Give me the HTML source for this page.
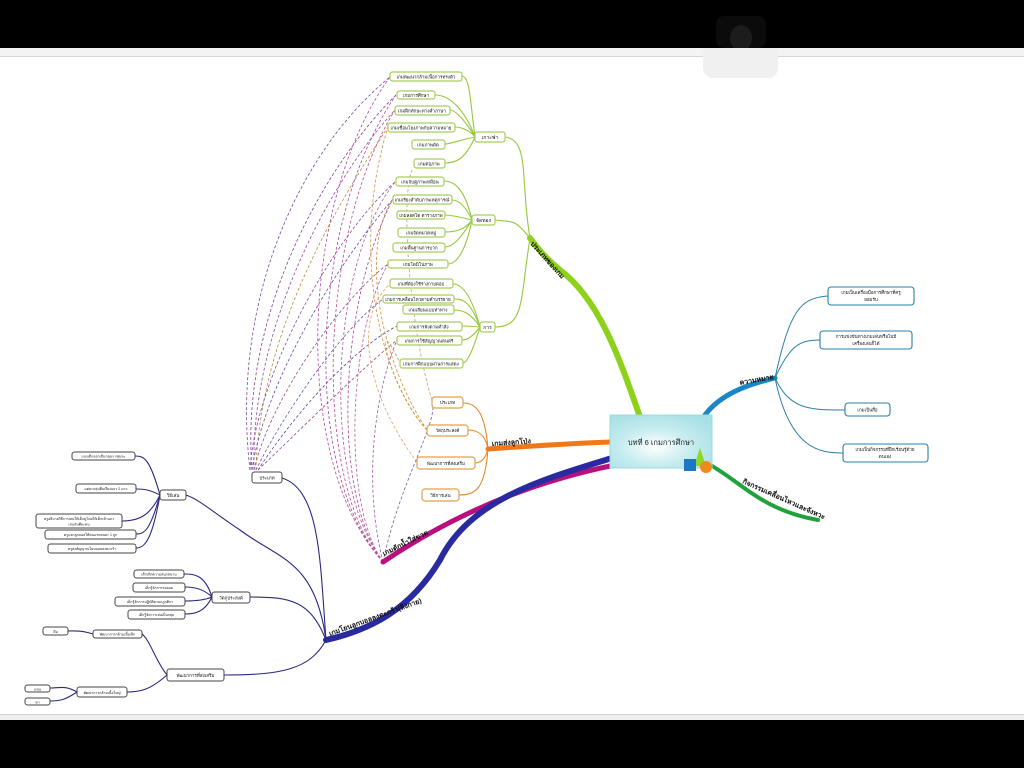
<!DOCTYPE html>
<html><head><meta charset="utf-8"><style>
html,body{margin:0;padding:0;width:1024px;height:768px;overflow:hidden;background:#fff}
svg{display:block}
text{font-family:"Liberation Sans","Noto Sans CJK SC",sans-serif}
</style></head><body>
<svg width="1024" height="768" viewBox="0 0 1024 768" xmlns="http://www.w3.org/2000/svg">
<defs>
<radialGradient id="cg" cx="0.45" cy="0.6" r="0.7"><stop offset="0" stop-color="#ffffff"/><stop offset="0.5" stop-color="#c6ecef"/><stop offset="1" stop-color="#a6dfe6"/></radialGradient>
</defs>
<rect x="0" y="0" width="1024" height="48" fill="#000"/>
<rect x="0" y="48" width="1024" height="8" fill="#f3f3f3"/>
<line x1="0" y1="56.5" x2="1024" y2="56.5" stroke="#d6d6d6"/>
<rect x="716" y="16" width="50" height="32" rx="8" fill="#0b0b0b"/>
<ellipse cx="741" cy="38" rx="11" ry="13" fill="#1c1c1c"/>
<rect x="703" y="48" width="75" height="30" rx="10" fill="#f0f0f0"/>
<rect x="703" y="48" width="75" height="12" fill="#f0f0f0"/>
<rect x="0" y="714" width="1024" height="6" fill="#eeeeee"/>
<line x1="0" y1="714.5" x2="1024" y2="714.5" stroke="#d0d0d0"/>
<rect x="0" y="720" width="1024" height="48" fill="#000"/>

<g fill="none" stroke-dasharray="3,2" stroke-width="0.8">
<path d="M250,470 C230,300 300,150 390,77" stroke="#7a4a9a"/>
<path d="M252,470 C240,320 320,170 396,95" stroke="#8a3a8a"/>
<path d="M254,470 C250,330 330,180 395,110" stroke="#9a4a9a"/>
<path d="M256,470 C260,330 340,200 388,127" stroke="#c08a3a"/>
<path d="M250,470 C255,380 330,240 396,181" stroke="#8a4aa0"/>
<path d="M252,470 C265,380 340,260 393,199" stroke="#6a4ab0"/>
<path d="M254,470 C270,400 340,300 388,264" stroke="#a04a8a"/>
<path d="M256,470 C280,420 340,330 383,299" stroke="#6a5ab0"/>
<path d="M258,470 C290,420 350,350 397,326" stroke="#5a4aa0"/>
<path d="M258,470 C300,430 360,370 397,340" stroke="#9a4a8a"/>
<path d="M383,562 C290,460 300,200 390,77" stroke="#b04aa0"/>
<path d="M383,562 C300,470 310,220 396,95" stroke="#a04aa0"/>
<path d="M383,562 C310,480 320,230 395,110" stroke="#c04a90"/>
<path d="M383,562 C320,480 330,260 396,181" stroke="#b05aa0"/>
<path d="M383,562 C330,490 340,300 393,199" stroke="#a04a90"/>
<path d="M383,562 C340,500 350,330 388,264" stroke="#c05aa0"/>
<path d="M383,562 C360,470 380,380 397,340" stroke="#9a5aa0"/>
<path d="M383,562 C400,480 440,420 432,400" stroke="#7a5aa0"/>
<path d="M427,430 C380,380 350,250 388,127" stroke="#d09040"/>
<path d="M427,430 C390,390 370,300 400,363" stroke="#d09040"/>
<path d="M427,430 C380,360 360,250 392,200" stroke="#d08a30"/>
<path d="M417,462 C370,400 350,320 390,284" stroke="#e0a060"/>
<path d="M432,400 C410,330 400,200 412,170" stroke="#c0a070"/>
</g>

<g fill="none" stroke-linecap="round">
<path d="M640,417 C620,360 600,300 560,270 C545,258 535,245 530,238" stroke="#8ed11a" stroke-width="6"/>
<path d="M705,415 C720,395 745,385 775,378" stroke="#1a86c8" stroke-width="5"/>
<path d="M705,462 C740,480 760,510 818,520" stroke="#1fa23a" stroke-width="4"/>
<path d="M610,442 C560,444 530,446 488,449" stroke="#f07818" stroke-width="5"/>
<path d="M615,465 C540,480 460,510 383,562" stroke="#b8107e" stroke-width="5"/>
<path d="M612,458 C540,480 470,500 440,560 C410,610 370,630 326,640" stroke="#2a2aa0" stroke-width="6"/>
</g>

<g fill="none" stroke="#94c93a" stroke-width="1.1">
<path d="M530,238 C520,180 530,140 505,137"/>
<path d="M530,238 C515,220 515,222 495,220"/>
<path d="M530,238 C520,300 525,327 495,327"/>
<path d="M475,137 C470,100 470,77 462,76"/>
<path d="M475,137 C465,110 450,95 435,95"/>
<path d="M475,137 C465,120 455,110 450,110"/>
<path d="M475,137 C470,130 460,127 455,127"/>
<path d="M475,137 C460,140 450,144 445,144"/>
<path d="M475,137 C465,160 455,163 445,163"/>
<path d="M472,220 C465,190 455,181 444,181"/>
<path d="M472,220 C465,205 458,200 452,200"/>
<path d="M472,220 C460,217 450,215 445,215"/>
<path d="M472,220 C465,230 455,232 445,232"/>
<path d="M472,220 C460,240 452,247 445,247"/>
<path d="M472,220 C465,255 455,264 448,264"/>
<path d="M480,327 C470,290 460,284 453,284"/>
<path d="M480,327 C470,300 462,299 454,299"/>
<path d="M480,327 C470,312 462,310 454,310"/>
<path d="M480,327 C470,326 465,326 462,326"/>
<path d="M480,327 C470,340 465,340 462,340"/>
<path d="M480,327 C470,360 465,363 463,363"/>
</g>
<g fill="none" stroke="#2a7fa8" stroke-width="1">
<path d="M775,378 C790,310 800,298 828,296"/>
<path d="M775,378 C790,345 800,340 820,340"/>
<path d="M775,378 C790,410 810,410 845,410"/>
<path d="M775,378 C790,450 820,453 843,453"/>
</g>
<g fill="none" stroke="#e08a2a" stroke-width="1.1">
<path d="M488,449 C485,410 475,403 463,403"/>
<path d="M488,449 C485,432 475,430 468,430"/>
<path d="M488,449 C485,460 480,463 475,463"/>
<path d="M488,449 C485,490 475,495 459,495"/>
</g>
<g fill="none" stroke="#2a2a80" stroke-width="1.1">
<path d="M326,640 C320,560 320,490 282,478"/>
<path d="M326,640 C315,560 280,560 240,530 C210,510 200,500 186,495"/>
<path d="M326,640 C310,600 290,597 250,597"/>
<path d="M326,640 C310,670 280,675 224,675"/>
<path d="M160,495 C150,460 145,456 135,456"/>
<path d="M160,495 C150,490 145,489 136,489"/>
<path d="M160,495 C150,515 140,521 122,521"/>
<path d="M160,495 C150,530 145,534 136,534"/>
<path d="M160,495 C152,540 145,548 136,548"/>
<path d="M212,597 C205,575 195,574 184,574"/>
<path d="M212,597 C205,590 195,587 185,587"/>
<path d="M212,597 C205,600 195,601 185,601"/>
<path d="M212,597 C205,612 195,614 185,614"/>
<path d="M167,675 C155,660 150,640 142,634"/>
<path d="M167,675 C150,690 140,692 127,692"/>
<path d="M93,634 C80,630 75,631 68,631"/>
<path d="M77,692 C65,685 60,688 50,688"/>
<path d="M77,692 C65,700 60,701 50,701"/>
</g>

<rect x="610" y="415" width="102" height="53" fill="url(#cg)" stroke="#9fd8de"/>
<text x="661" y="445" font-size="7.5" text-anchor="middle" fill="#222">บทที่ 6 เกมการศึกษา</text>
<polygon points="700,448 694,466 706,466" fill="#8fd62a"/>
<rect x="684" y="459" width="12" height="12" fill="#1c78c0"/>
<circle cx="706" cy="467" r="6" fill="#f08a1a"/>

<g font-size="7" fill="#111" font-weight="bold">
<text transform="translate(530,244) rotate(48)">ประเภทของเกม</text>
<text transform="translate(740,385) rotate(-10)">ความหมาย</text>
<text transform="translate(742,483) rotate(24)">กิจกรรมเคลื่อนไหวและจังหวะ</text>
<text transform="translate(492,446) rotate(-4)">เกมส่งลูกโป่ง</text>
<text transform="translate(384,556) rotate(-26)">เกมตักน้ำใส่ขวด</text>
<text transform="translate(330,636) rotate(-20)">เกมโยนลูกบอลลงตะกร้า(ลิงกาย)</text>
</g>

<g font-size="4.5" fill="#111" text-anchor="middle">
<g stroke="#a8cf5a" stroke-width="1.2" fill="#fff">
<rect x="390" y="72" width="72" height="9" rx="2.5"/>
<rect x="397" y="91" width="38" height="8" rx="2.5"/>
<rect x="395" y="106" width="55" height="9" rx="2.5"/>
<rect x="388" y="123" width="67" height="9" rx="2.5"/>
<rect x="412" y="140" width="33" height="9" rx="2.5"/>
<rect x="414" y="159" width="31" height="9" rx="2.5"/>
<rect x="396" y="177" width="48" height="9" rx="2.5"/>
<rect x="393" y="195" width="59" height="9" rx="2.5"/>
<rect x="397" y="211" width="48" height="8" rx="2.5"/>
<rect x="398" y="228" width="47" height="9" rx="2.5"/>
<rect x="393" y="243" width="52" height="9" rx="2.5"/>
<rect x="388" y="260" width="60" height="8" rx="2.5"/>
<rect x="390" y="279" width="63" height="9" rx="2.5"/>
<rect x="383" y="295" width="71" height="8" rx="2.5"/>
<rect x="403" y="305" width="51" height="9" rx="2.5"/>
<rect x="397" y="322" width="65" height="9" rx="2.5"/>
<rect x="397" y="336" width="65" height="9" rx="2.5"/>
<rect x="400" y="359" width="63" height="9" rx="2.5"/>
<rect x="475" y="132" width="30" height="10" rx="2.5"/>
<rect x="472" y="215" width="23" height="10" rx="2.5"/>
<rect x="480" y="322" width="15" height="10" rx="2.5"/>
</g>
<text x="426" y="78.5">เกมพัฒนากล้ามเนื้อการทรงตัว</text>
<text x="416" y="97">เกมการศึกษา</text>
<text x="422" y="112.5">เกมฝึกทักษะทางคำภาษา</text>
<text x="421" y="129.5">เกมเชื่อมโยงภาพกับความหมาย</text>
<text x="428" y="146.5">เกมภาพตัด</text>
<text x="429" y="165.5">เกมต่อภาพ</text>
<text x="420" y="183.5">เกมจับคู่ภาพเหมือน</text>
<text x="422" y="201.5">เกมเรียงลำดับภาพเหตุการณ์</text>
<text x="421" y="217">เกมลอตโต ตารางภาพ</text>
<text x="421" y="234.5">เกมจัดหมวดหมู่</text>
<text x="419" y="249.5">เกมพื้นฐานการบวก</text>
<text x="418" y="266">เกมโดมิโน่ภาพ</text>
<text x="421" y="285.5">เกมที่ต้องใช้ร่างกายตอบ</text>
<text x="418" y="301">เกมการเคลื่อนไหวตามคำบรรยาย</text>
<text x="428" y="311.5">เกมเลียนแบบท่าทาง</text>
<text x="429" y="328.5">เกมการฟังตามคำสั่ง</text>
<text x="429" y="342.5">เกมการใช้สัญญาณดนตรี</text>
<text x="431" y="365.5">เกมการฝึกแบบผ่านการแสดง</text>
<text x="490" y="139" font-size="5">เกาะฟา</text>
<text x="483.5" y="222" font-size="5">จัดทอง</text>
<text x="487.5" y="329" font-size="5">การ</text>

<g stroke="#2a7fa8" stroke-width="1.1" fill="#fff">
<rect x="828" y="287" width="86" height="18" rx="3"/>
<rect x="820" y="331" width="92" height="18" rx="3"/>
<rect x="845" y="403" width="45" height="13" rx="3"/>
<rect x="843" y="444" width="85" height="18" rx="3"/>
</g>
<text x="871" y="294">เกมเป็นเครื่องมือการศึกษาที่ครู</text><text x="871" y="301">ยอมรับ</text>
<text x="866" y="338">การแข่งขันทางเกมเล่นหรือไม่มี</text><text x="866" y="345">เครื่องเล่นก็ได้</text>
<text x="867.5" y="411.5">เกมเป็นสื่อ</text>
<text x="885" y="451">เกมเป็นกิจกรรมที่ฝึกเรียนรู้ด้วย</text><text x="885" y="458">ตนเอง</text>

<g stroke="#e0a050" stroke-width="1.2" fill="#fff">
<rect x="432" y="397" width="31" height="11" rx="3"/>
<rect x="427" y="425" width="41" height="11" rx="3"/>
<rect x="417" y="457" width="58" height="12" rx="3"/>
<rect x="422" y="489" width="37" height="12" rx="3"/>
</g>
<text x="447.5" y="404">ประเภท</text>
<text x="447.5" y="432">วัตถุประสงค์</text>
<text x="446" y="465">พัฒนาการที่ส่งเสริม</text>
<text x="440.5" y="497">วิธีการเล่น</text>

<g stroke="#444" stroke-width="1" fill="#fff">
<rect x="252" y="472" width="30" height="11" rx="2.5"/>
<rect x="160" y="490" width="26" height="10" rx="2.5"/>
<rect x="212" y="592" width="38" height="11" rx="2.5"/>
<rect x="167" y="669" width="57" height="12" rx="2.5"/>
<rect x="72" y="452" width="63" height="8" rx="2.5"/>
<rect x="76" y="484" width="60" height="9" rx="2.5"/>
<rect x="36" y="514" width="86" height="14" rx="2.5"/>
<rect x="45" y="530" width="91" height="9" rx="2.5"/>
<rect x="48" y="544" width="88" height="9" rx="2.5"/>
<rect x="134" y="570" width="50" height="8" rx="2.5"/>
<rect x="133" y="583" width="52" height="9" rx="2.5"/>
<rect x="115" y="597" width="70" height="9" rx="2.5"/>
<rect x="128" y="610" width="57" height="9" rx="2.5"/>
<rect x="93" y="630" width="49" height="8" rx="2.5"/>
<rect x="43" y="627" width="25" height="8" rx="2.5"/>
<rect x="77" y="687" width="50" height="10" rx="2.5"/>
<rect x="25" y="685" width="25" height="7" rx="2.5"/>
<rect x="25" y="698" width="25" height="7" rx="2.5"/>
</g>
<text x="267" y="479.5">ประเภท</text>
<text x="173" y="497">วิธีเล่น</text>
<text x="231" y="599.5">วัตถุประสงค์</text>
<text x="195.5" y="677">พัฒนาการที่ส่งเสริม</text>
<text x="103.5" y="457.5" font-size="3.5">แบ่งเด็กออกเป็นกลุ่มๆ กลุ่มละ</text>
<text x="106" y="490" font-size="3.5">แต่ละกลุ่มยืนเรียงแถว 2 แถว</text>
<text x="79" y="520" font-size="3.5">ครูอธิบายวิธีการเล่นให้เด็กดูโดยให้เด็กเข้าแถว</text>
<text x="79" y="525.5" font-size="3.5">เล่นกันทีละคน</text>
<text x="90.5" y="536" font-size="3.5">ครูแจกลูกบอลให้คนแรกคนละ 1 ลูก</text>
<text x="92" y="550" font-size="3.5">ครูส่งสัญญาณโยนบอลลงตะกร้า</text>
<text x="159" y="575.5" font-size="3.5">เด็กเกิดความสนุกสนาน</text>
<text x="159" y="589" font-size="3.5">เด็กรู้จักการรอคอย</text>
<text x="150" y="603" font-size="3.5">เด็กรู้จักการปฏิบัติตามกฎกติกา</text>
<text x="156.5" y="616" font-size="3.5">เด็กรู้จักการเล่นเป็นกลุ่ม</text>
<text x="117.5" y="635.5" font-size="3.5">พัฒนาการกล้ามเนื้อเล็ก</text>
<text x="55.5" y="633" font-size="3.5">มือ</text>
<text x="102" y="694" font-size="3.5">พัฒนาการกล้ามเนื้อใหญ่</text>
<text x="37.5" y="690.5" font-size="3.5">แขน</text>
<text x="37.5" y="703.5" font-size="3.5">ขา</text>
</g>
</svg>
</body></html>
